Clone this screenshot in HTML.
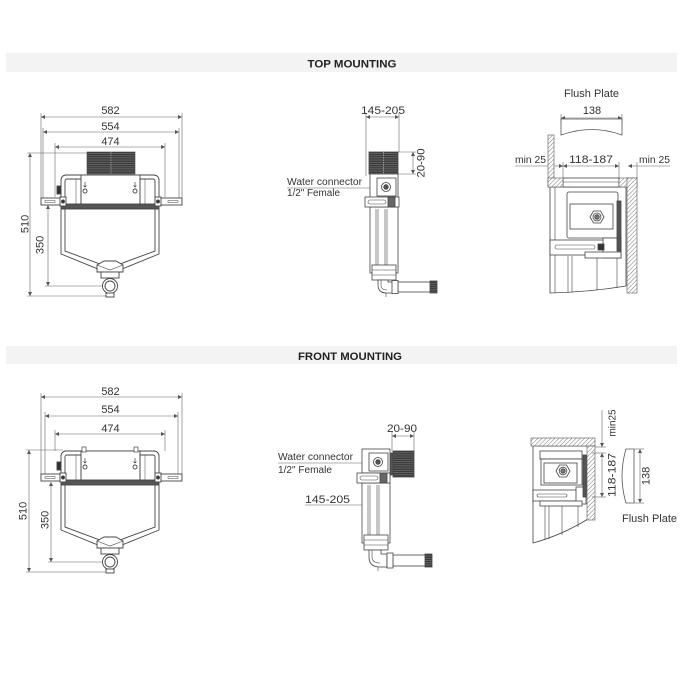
<!DOCTYPE html>
<html><head><meta charset="utf-8">
<style>
html,body{margin:0;padding:0;background:#fff;}
svg{display:block;}
text{font-family:"Liberation Sans",sans-serif;fill:#333;}
</style></head><body>
<svg width="700" height="700" viewBox="0 0 700 700" xmlns="http://www.w3.org/2000/svg">
<defs>
<pattern id="hatch" width="3" height="3" patternUnits="userSpaceOnUse" patternTransform="rotate(45)">
 <rect width="3" height="3" fill="#fff"/>
 <line x1="0" y1="0" x2="0" y2="3" stroke="#555" stroke-width="0.8"/>
</pattern>
<pattern id="grille" width="4" height="2.2" patternUnits="userSpaceOnUse">
 <rect width="4" height="2.2" fill="#3a3a3a"/>
 <line x1="0" y1="1.7" x2="4" y2="1.7" stroke="#8a8a8a" stroke-width="0.5"/>
</pattern>
<marker id="ar" viewBox="0 0 6 6" refX="6" refY="3" markerWidth="4" markerHeight="4" markerUnits="userSpaceOnUse" orient="auto-start-reverse">
 <path d="M0,0 L6,3 L0,6 Z" fill="#555"/>
</marker>
<g id="tank" fill="#fff" stroke="#444" stroke-width="0.9">
 <rect x="41" y="198" width="22" height="7"/>
 <rect x="157" y="198" width="25" height="7"/>
 <rect x="45" y="200.5" width="10" height="2" fill="none" stroke-width="0.5"/>
 <rect x="168" y="200.5" width="10" height="2" fill="none" stroke-width="0.5"/>
 <rect x="61" y="175" width="98" height="33" rx="5"/>
 <rect x="65" y="179" width="90" height="26" rx="2"/>
 <rect x="81" y="175" width="59" height="30"/>
 <rect x="76" y="179" width="5" height="26" fill="none" stroke-width="0.5"/>
 <rect x="140" y="179" width="5" height="26" fill="none" stroke-width="0.5"/>
 <rect x="61" y="204" width="98" height="5" fill="#555"/>
 <rect x="57" y="186" width="4" height="8" fill="#333"/>
 <rect x="60" y="197" width="6" height="9"/>
 <rect x="155" y="197" width="6" height="9"/>
 <circle cx="63" cy="201.5" r="1.5" fill="#333"/>
 <circle cx="158" cy="201.5" r="1.5" fill="#333"/>
 <circle cx="85" cy="191" r="2"/>
 <circle cx="135" cy="191" r="2"/>
 <path d="M85,182 V187 M83.5,185.5 L85,187 L86.5,185.5 M135,182 V187 M133.5,185.5 L135,187 L136.5,185.5" fill="none" stroke-width="0.7"/>
 <path d="M61,209 V254 L98,269 H122 L159,254 V209" fill="none"/>
 <path d="M65,209 V251 L100,264 H120 L155,251 V209" fill="none"/>
 <path d="M97,265 L104,261 H116 L123,265 V272 H97 Z"/>
 <path d="M97,265 L110,270 L123,265" fill="none" stroke-width="0.6"/>
 <rect x="101" y="272" width="18" height="6"/>
 <circle cx="110" cy="286" r="7.5"/>
 <circle cx="110" cy="286" r="5"/>
 <rect x="106" y="293" width="8" height="4"/>
</g>
</defs>

<!-- header bands -->
<rect x="6" y="53" width="671" height="19" fill="#f3f3f3"/>
<text x="352" y="67.5" text-anchor="middle" font-size="11.3" font-weight="bold" textLength="89" lengthAdjust="spacingAndGlyphs" style="fill:#222">TOP MOUNTING</text>
<rect x="6" y="346" width="671" height="18" fill="#f3f3f3"/>
<text x="350" y="360" text-anchor="middle" font-size="11.3" font-weight="bold" textLength="104" lengthAdjust="spacingAndGlyphs" style="fill:#222">FRONT MOUNTING</text>

<!-- ================= TOP LEFT ================= -->
<g stroke="#666" stroke-width="0.6" fill="none">
 <line x1="41" y1="113" x2="41" y2="198"/>
 <line x1="182" y1="113" x2="182" y2="198"/>
 <line x1="43" y1="128" x2="43" y2="198"/>
 <line x1="179" y1="128" x2="179" y2="198"/>
 <line x1="55" y1="143" x2="55" y2="197"/>
 <line x1="165" y1="143" x2="165" y2="197"/>
 <line x1="41" y1="117" x2="182" y2="117" marker-start="url(#ar)" marker-end="url(#ar)"/>
 <line x1="43" y1="132" x2="179" y2="132" marker-start="url(#ar)" marker-end="url(#ar)"/>
 <line x1="55" y1="147" x2="165" y2="147" marker-start="url(#ar)" marker-end="url(#ar)"/>
 <line x1="27" y1="153" x2="87" y2="153"/>
 <line x1="27" y1="296" x2="107" y2="296"/>
 <line x1="30" y1="153" x2="30" y2="296" marker-start="url(#ar)" marker-end="url(#ar)"/>
 <line x1="45" y1="286" x2="103" y2="286"/>
 <line x1="48" y1="205" x2="48" y2="286" marker-start="url(#ar)" marker-end="url(#ar)"/>
</g>
<text x="110.5" y="114" text-anchor="middle" font-size="11">582</text>
<text x="110.5" y="130" text-anchor="middle" font-size="11">554</text>
<text x="110.5" y="145" text-anchor="middle" font-size="11">474</text>
<text transform="translate(28.5,224) rotate(-90)" text-anchor="middle" font-size="11">510</text>
<text transform="translate(43.5,245) rotate(-90)" text-anchor="middle" font-size="11">350</text>
<use href="#tank"/>
<rect x="87" y="152" width="48" height="22" fill="url(#grille)" stroke="#444" stroke-width="0.6"/>
<line x1="111" y1="152" x2="111" y2="174" stroke="#aaa" stroke-width="0.7" stroke-dasharray="1.5 1"/>

<!-- ================= BOTTOM LEFT ================= -->
<g stroke="#666" stroke-width="0.6" fill="none">
 <line x1="41" y1="393" x2="41" y2="474"/>
 <line x1="182" y1="393" x2="182" y2="474"/>
 <line x1="45" y1="412" x2="45" y2="474"/>
 <line x1="178" y1="412" x2="178" y2="474"/>
 <line x1="55" y1="430" x2="55" y2="451"/>
 <line x1="165" y1="430" x2="165" y2="451"/>
 <line x1="41" y1="397" x2="182" y2="397" marker-start="url(#ar)" marker-end="url(#ar)"/>
 <line x1="45" y1="416" x2="178" y2="416" marker-start="url(#ar)" marker-end="url(#ar)"/>
 <line x1="55" y1="434" x2="165" y2="434" marker-start="url(#ar)" marker-end="url(#ar)"/>
 <line x1="26" y1="450" x2="63" y2="450"/>
 <line x1="26" y1="572" x2="107" y2="572"/>
 <line x1="29" y1="450" x2="29" y2="572" marker-start="url(#ar)" marker-end="url(#ar)"/>
 <line x1="48" y1="562" x2="103" y2="562"/>
 <line x1="51" y1="482" x2="51" y2="562" marker-start="url(#ar)" marker-end="url(#ar)"/>
</g>
<text x="110.5" y="395" text-anchor="middle" font-size="11">582</text>
<text x="110.5" y="413" text-anchor="middle" font-size="11">554</text>
<text x="110.5" y="432" text-anchor="middle" font-size="11">474</text>
<text transform="translate(26.5,511) rotate(-90)" text-anchor="middle" font-size="11">510</text>
<text transform="translate(48.5,520) rotate(-90)" text-anchor="middle" font-size="11">350</text>
<use href="#tank" y="276"/>
<g stroke="#444" stroke-width="0.7" fill="#fff">
 <rect x="82" y="447" width="4" height="5"/>
 <rect x="134" y="447" width="4" height="5"/>
</g>

<!-- ================= TOP MIDDLE ================= -->
<g stroke="#666" stroke-width="0.6" fill="none">
 <line x1="366" y1="113" x2="366" y2="176"/>
 <line x1="399" y1="113" x2="399" y2="152"/>
 <line x1="366" y1="117" x2="399" y2="117" marker-start="url(#ar)" marker-end="url(#ar)"/>
 <line x1="398" y1="152" x2="416" y2="152"/>
 <line x1="398" y1="174" x2="416" y2="174"/>
 <line x1="413" y1="152" x2="413" y2="174" marker-start="url(#ar)" marker-end="url(#ar)"/>
 <line x1="287" y1="188" x2="372" y2="188"/>
</g>
<text x="383" y="114" text-anchor="middle" font-size="11" textLength="44" lengthAdjust="spacingAndGlyphs">145-205</text>
<text transform="translate(424.5,163) rotate(-90)" text-anchor="middle" font-size="11" textLength="29" lengthAdjust="spacingAndGlyphs">20-90</text>
<text x="287" y="185" font-size="10" textLength="75" lengthAdjust="spacingAndGlyphs">Water connector</text>
<text x="287" y="196" font-size="10" textLength="53" lengthAdjust="spacingAndGlyphs">1/2" Female</text>
<g stroke="#444" stroke-width="0.8" fill="#fff">
 <rect x="369" y="152" width="29" height="22" fill="url(#grille)"/>
 <line x1="383.5" y1="152" x2="383.5" y2="174" stroke="#aaa" stroke-dasharray="1.5 1"/>
 <rect x="370" y="174" width="28" height="24"/>
 <rect x="377" y="178" width="19" height="18"/>
 <circle cx="386" cy="187" r="4.5"/>
 <circle cx="386" cy="187" r="2.3" fill="#555"/>
 <rect x="370" y="207" width="28" height="66"/>
 <line x1="376" y1="209" x2="376" y2="265" stroke-width="0.6"/>
 <line x1="378" y1="209" x2="378" y2="265" stroke-width="0.6"/>
 <line x1="385" y1="209" x2="385" y2="265" stroke-width="0.6"/>
 <line x1="387" y1="209" x2="387" y2="265" stroke-width="0.6"/>
 <rect x="365" y="197" width="34" height="10"/>
 <rect x="368" y="200" width="18" height="4" rx="2" fill="none" stroke-width="0.6"/>
 <rect x="388" y="197" width="7" height="10" fill="#666"/>
 <rect x="372" y="265" width="24" height="15"/>
 <line x1="372" y1="270" x2="396" y2="270" stroke-width="0.6"/>
 <line x1="372" y1="275" x2="396" y2="275" stroke-width="0.6"/>
 <path d="M378,280 V285 Q378,293 387,293 H393 V282 H388 V280 Z"/>
 <path d="M381,280 V285 Q381,290 387,290" fill="none" stroke-width="0.6"/>
 <rect x="398" y="282" width="33" height="10"/>
 <rect x="392" y="280.5" width="6" height="13"/>
 <rect x="430" y="281" width="7" height="12" fill="url(#grille)"/>
 <line x1="386" y1="293" x2="386" y2="297" stroke-width="0.6"/>
</g>

<!-- ================= TOP RIGHT ================= -->
<text x="591.5" y="97" text-anchor="middle" font-size="11" textLength="55" lengthAdjust="spacingAndGlyphs">Flush Plate</text>
<text x="592" y="114" text-anchor="middle" font-size="11">138</text>
<g stroke="#666" stroke-width="0.6" fill="none">
 <line x1="561" y1="118" x2="622" y2="118" marker-start="url(#ar)" marker-end="url(#ar)"/>
 <line x1="561" y1="114" x2="561" y2="124"/>
 <line x1="622" y1="114" x2="622" y2="124"/>
 <line x1="515" y1="166" x2="548" y2="166"/>
 <line x1="563" y1="166" x2="619" y2="166" marker-start="url(#ar)" marker-end="url(#ar)"/>
 <line x1="637" y1="166" x2="670" y2="166"/>
 <line x1="563" y1="162" x2="563" y2="178"/>
 <line x1="619" y1="162" x2="619" y2="178"/>
 <line x1="637" y1="162" x2="637" y2="178"/>
 <line x1="554" y1="166" x2="563" y2="166" marker-end="url(#ar)"/>
 <line x1="628" y1="166" x2="637" y2="166" marker-start="url(#ar)"/>
</g>
<path d="M561,119 H622 V135 Q592,124 561,135 Z" fill="#fff" stroke="#555" stroke-width="0.8"/>
<text x="530.5" y="163" text-anchor="middle" font-size="10.5" textLength="31" lengthAdjust="spacingAndGlyphs">min 25</text>
<text x="591" y="163" text-anchor="middle" font-size="11" textLength="44" lengthAdjust="spacingAndGlyphs">118-187</text>
<text x="654.5" y="163" text-anchor="middle" font-size="10.5" textLength="31" lengthAdjust="spacingAndGlyphs">min 25</text>
<g stroke="#444" stroke-width="0.8" fill="#fff">
 <path d="M550,187 V293 Q590,292 626,286 V187 Z"/>
 <line x1="555" y1="187" x2="555" y2="293" stroke-width="0.6"/>
 <line x1="568" y1="256" x2="568" y2="292" stroke-width="0.6"/>
 <line x1="572" y1="256" x2="572" y2="292" stroke-width="0.6"/>
 <line x1="597" y1="256" x2="597" y2="290" stroke-width="0.6"/>
 <line x1="617" y1="256" x2="617" y2="288" stroke-width="0.6"/>
 <rect x="563" y="178" width="56" height="9"/>
 <line x1="563" y1="182" x2="619" y2="182" stroke-width="0.6"/>
 <rect x="567" y="192" width="51" height="46" rx="2"/>
 <rect x="570" y="204" width="43" height="25"/>
 <polygon points="590,217 593.5,211 600.5,211 604,217 600.5,223 593.5,223" />
 <circle cx="597" cy="217" r="4"/>
 <circle cx="597" cy="217" r="2.3" fill="#777"/>
 <rect x="550" y="240" width="54" height="15"/>
 <rect x="555" y="245" width="40" height="4" rx="2" fill="none" stroke-width="0.6"/>
 <rect x="603" y="238" width="18" height="20"/>
 <rect x="598" y="244" width="6" height="6" fill="#333"/>
 <rect x="617" y="201" width="4" height="50" fill="#555"/>
 <rect x="585" y="252" width="36" height="6"/>
</g>
<rect x="548" y="135" width="6" height="52" fill="url(#hatch)" stroke="#555" stroke-width="0.6"/>
<rect x="548" y="178" width="15" height="9" fill="url(#hatch)" stroke="#555" stroke-width="0.6"/>
<rect x="619" y="178" width="18" height="9" fill="url(#hatch)" stroke="#555" stroke-width="0.6"/>
<rect x="627" y="178" width="10" height="115" fill="url(#hatch)" stroke="#555" stroke-width="0.6"/>

<!-- ================= BOTTOM MIDDLE ================= -->
<g stroke="#666" stroke-width="0.6" fill="none">
 <line x1="392" y1="432" x2="392" y2="451"/>
 <line x1="414" y1="432" x2="414" y2="451"/>
 <line x1="392" y1="436" x2="414" y2="436" marker-start="url(#ar)" marker-end="url(#ar)"/>
 <line x1="278" y1="463" x2="362" y2="463"/>
 <line x1="305" y1="505" x2="362" y2="505"/>
</g>
<text x="402" y="432" text-anchor="middle" font-size="11" textLength="30" lengthAdjust="spacingAndGlyphs">20-90</text>
<text x="278" y="460" font-size="10" textLength="75" lengthAdjust="spacingAndGlyphs">Water connector</text>
<text x="278" y="473" font-size="10" textLength="54" lengthAdjust="spacingAndGlyphs">1/2" Female</text>
<text x="327.5" y="503" text-anchor="middle" font-size="11" textLength="45" lengthAdjust="spacingAndGlyphs">145-205</text>
<g stroke="#444" stroke-width="0.8" fill="#fff">
 <rect x="393" y="451" width="21" height="26" fill="url(#grille)"/>
 <rect x="390" y="453" width="3" height="22" fill="#555"/>
 <rect x="362" y="449" width="28" height="24"/>
 <rect x="369" y="453" width="19" height="18"/>
 <circle cx="378" cy="462" r="4.5"/>
 <circle cx="378" cy="462" r="2.3" fill="#555"/>
 <rect x="362" y="483" width="28" height="60"/>
 <line x1="368" y1="485" x2="368" y2="535" stroke-width="0.6"/>
 <line x1="370" y1="485" x2="370" y2="535" stroke-width="0.6"/>
 <line x1="377" y1="485" x2="377" y2="535" stroke-width="0.6"/>
 <line x1="379" y1="485" x2="379" y2="535" stroke-width="0.6"/>
 <rect x="357" y="473" width="33" height="10"/>
 <rect x="360" y="476" width="18" height="4" rx="2" fill="none" stroke-width="0.6"/>
 <rect x="380" y="473" width="7" height="10" fill="#666"/>
 <rect x="364" y="535" width="24" height="15"/>
 <line x1="364" y1="540" x2="388" y2="540" stroke-width="0.6"/>
 <line x1="364" y1="545" x2="388" y2="545" stroke-width="0.6"/>
 <path d="M369,550 V557 Q369,567 380,567 H387 V554 H381 V550 Z"/>
 <path d="M372,550 V557 Q372,563 380,563" fill="none" stroke-width="0.6"/>
 <rect x="393" y="555" width="33" height="11"/>
 <rect x="387" y="553" width="6" height="15"/>
 <rect x="425" y="554" width="7" height="13" fill="url(#grille)"/>
 <line x1="378" y1="567" x2="378" y2="571" stroke-width="0.6"/>
</g>

<!-- ================= BOTTOM RIGHT ================= -->
<g stroke="#444" stroke-width="0.8" fill="#fff">
 <path d="M533,446 V543 Q562,535 588,519 V446 Z"/>
 <line x1="545" y1="503" x2="545" y2="540" stroke-width="0.6"/>
 <line x1="549" y1="503" x2="549" y2="539" stroke-width="0.6"/>
 <line x1="562" y1="503" x2="562" y2="535" stroke-width="0.6"/>
 <line x1="578" y1="503" x2="578" y2="527" stroke-width="0.6"/>
 <rect x="540" y="451" width="42" height="8"/>
 <rect x="541" y="459" width="41" height="26"/>
 <rect x="544" y="463" width="33" height="20"/>
 <polygon points="556,471 559.5,465 566.5,465 570,471 566.5,477 559.5,477"/>
 <circle cx="563" cy="471" r="3.8"/>
 <circle cx="563" cy="471" r="2.2" fill="#777"/>
 <rect x="533" y="490" width="44" height="11"/>
 <rect x="537" y="494" width="30" height="3" rx="1.5" fill="none" stroke-width="0.6"/>
 <rect x="576" y="487" width="10" height="17"/>
 <rect x="540" y="501" width="42" height="5"/>
 <rect x="583" y="455" width="4" height="42" fill="#555"/>
</g>
<rect x="531" y="438" width="64" height="8" fill="url(#hatch)" stroke="#555" stroke-width="0.6"/>
<rect x="587" y="446" width="8" height="74" fill="url(#hatch)" stroke="#555" stroke-width="0.6"/>
<g stroke="#666" stroke-width="0.6" fill="none">
 <line x1="602" y1="410" x2="602" y2="447" marker-end="url(#ar)"/>
 <line x1="602" y1="453" x2="602" y2="497" marker-start="url(#ar)" marker-end="url(#ar)"/>
 <line x1="595" y1="447" x2="606" y2="447"/>
 <line x1="592" y1="453" x2="606" y2="453"/>
 <line x1="592" y1="497" x2="606" y2="497"/>
 <line x1="634" y1="449" x2="644" y2="449"/>
 <line x1="634" y1="503" x2="644" y2="503"/>
 <line x1="640" y1="449" x2="640" y2="503" marker-start="url(#ar)" marker-end="url(#ar)"/>
</g>
<path d="M626,449 H634 V503 H626 Q618,476 626,449 Z" fill="#fff" stroke="#555" stroke-width="0.8"/>
<text transform="translate(615.5,423) rotate(-90)" text-anchor="middle" font-size="10.5" textLength="27" lengthAdjust="spacingAndGlyphs">min25</text>
<text transform="translate(615.5,475) rotate(-90)" text-anchor="middle" font-size="11" textLength="44" lengthAdjust="spacingAndGlyphs">118-187</text>
<text transform="translate(649.5,476) rotate(-90)" text-anchor="middle" font-size="11">138</text>
<text x="649.5" y="522" text-anchor="middle" font-size="11" textLength="55" lengthAdjust="spacingAndGlyphs">Flush Plate</text>
</svg>
</body></html>
